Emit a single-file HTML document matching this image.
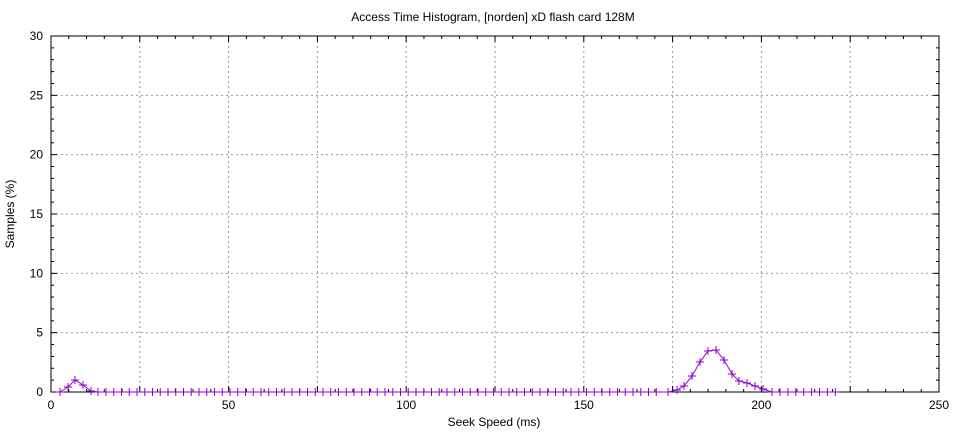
<!DOCTYPE html>
<html><head><meta charset="utf-8"><style>
body{margin:0;background:#fff;}
svg{display:block;font-family:"Liberation Sans",sans-serif;}
</style></head><body>
<svg id="s" width="960" height="432" viewBox="0 0 960 432" xmlns="http://www.w3.org/2000/svg"></svg>
<script>
const s=document.getElementById('s');
let h='';
const X=v=>51+v*(888/250), Y=v=>392-v*(356/30);
h+='<text x="493" y="21" font-size="12" text-anchor="middle">Access Time Histogram, [norden] xD flash card 128M</text>';
// grid
for(let v=25;v<250;v+=25){h+=`<line x1="${X(v)}" y1="36" x2="${X(v)}" y2="392" stroke="#999" stroke-dasharray="2,3"/>`;}
for(let v=5;v<30;v+=5){h+=`<line x1="51" y1="${Y(v)}" x2="939" y2="${Y(v)}" stroke="#999" stroke-dasharray="2,3"/>`;}
// ticks
for(let v=0;v<=250;v+=5){let l=v%25==0?6:3;h+=`<line x1="${X(v)}" y1="392" x2="${X(v)}" y2="${392-l}" stroke="#000"/><line x1="${X(v)}" y1="36" x2="${X(v)}" y2="${36+l}" stroke="#000"/>`;}
for(let v=0;v<=30;v++){let l=v%5==0?6:3;h+=`<line x1="51" y1="${Y(v)}" x2="${51+l}" y2="${Y(v)}" stroke="#000"/><line x1="939" y1="${Y(v)}" x2="${939-l}" y2="${Y(v)}" stroke="#000"/>`;}
h+='<rect x="51" y="36" width="888" height="356" fill="none" stroke="#000"/>';
for(let v=0;v<=250;v+=50)h+=`<text x="${X(v)}" y="409" font-size="12" text-anchor="middle">${v}</text>`;
for(let v=0;v<=30;v+=5)h+=`<text x="43" y="${Y(v)+4}" font-size="12" text-anchor="end">${v}</text>`;
h+='<text x="494" y="426" font-size="12" text-anchor="middle">Seek Speed (ms)</text>';
h+='<text transform="translate(14,214) rotate(-90)" font-size="12" text-anchor="middle">Samples (%)</text>';
// data
let pts=[[60,392],[68,387],[75,380],[83,385],[91,391],[98,392]];
for(let x=106;x<660;x+=7.75)pts.push([x,392]);
pts.push([668,392],[677,390],[684,386],[692,376],[700,362],[708,351],[716,350],[724,360],[732,374],[739,381],[747,383],[755,386],[763,389],[772,392]);
for(let x=780;x<=836;x+=7.9)pts.push([x,392]);
h+=`<polyline fill="none" stroke="#9400d3" stroke-width="1" points="${pts.map(p=>p.join(',')).join(' ')}"/>`;
for(const [x,y] of pts)h+=`<path d="M${x-4},${y}h8M${x},${y-4}v8" stroke="#9400d3" stroke-width="1"/>`;
s.innerHTML=h;
</script>
</body></html>
